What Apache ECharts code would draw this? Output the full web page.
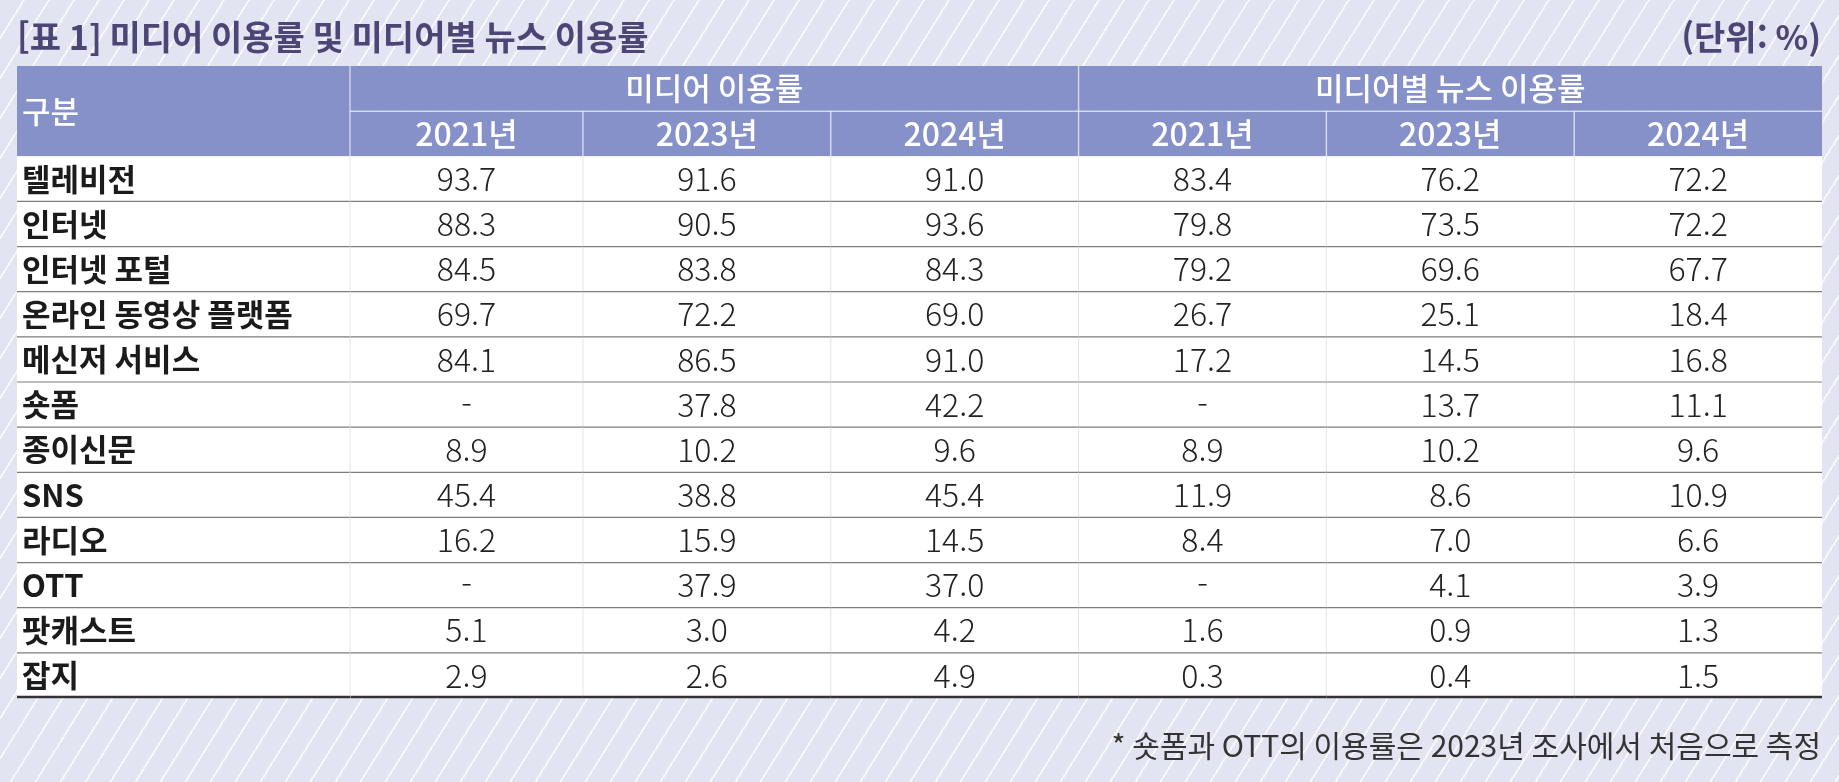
<!DOCTYPE html>
<html lang="ko">
<head>
<meta charset="utf-8">
<title>미디어 이용률 및 미디어별 뉴스 이용률</title>
<script src="https://cdn.jsdelivr.net/npm/echarts@6/dist/echarts.min.js"></script>
<style>
  html, body { margin: 0; padding: 0; }
  body {
    width: 1839px;
    height: 782px;
    overflow: hidden;
    background-color: #e3e4f1;
    background-image: repeating-linear-gradient(122deg,
      rgba(255, 255, 255, 0) 0px, rgba(255, 255, 255, 0) 19.5px,
      rgba(255, 255, 255, 0.8) 19.5px, rgba(255, 255, 255, 0.8) 21.2px);
  }
  #table-chart { width: 1839px; height: 782px; }
</style>
</head>
<body>
<div id="table-chart"></div>
<script>
var titleText = "[표 1] 미디어 이용률 및 미디어별 뉴스 이용률";
var unitText = "(단위: %)";
var noteText = "* 숏폼과 OTT의 이용률은 2023년 조사에서 처음으로 측정";
var cornerText = "구분";

var groups = ["미디어 이용률", "미디어별 뉴스 이용률"];
var years = ["2021년", "2023년", "2024년"];
var media = ["텔레비전", "인터넷", "인터넷 포털", "온라인 동영상 플랫폼", "메신저 서비스", "숏폼",
  "종이신문", "SNS", "라디오", "OTT", "팟캐스트", "잡지"];

// 미디어 이용률 (null = 조사 안 함)
var use2021 = [93.7, 88.3, 84.5, 69.7, 84.1, null, 8.9, 45.4, 16.2, null, 5.1, 2.9];
var use2023 = [91.6, 90.5, 83.8, 72.2, 86.5, 37.8, 10.2, 38.8, 15.9, 37.9, 3.0, 2.6];
var use2024 = [91.0, 93.6, 84.3, 69.0, 91.0, 42.2, 9.6, 45.4, 14.5, 37.0, 4.2, 4.9];
// 미디어별 뉴스 이용률
var news2021 = [83.4, 79.8, 79.2, 26.7, 17.2, null, 8.9, 11.9, 8.4, null, 1.6, 0.3];
var news2023 = [76.2, 73.5, 69.6, 25.1, 14.5, 13.7, 10.2, 8.6, 7.0, 4.1, 0.9, 0.4];
var news2024 = [72.2, 72.2, 67.7, 18.4, 16.8, 11.1, 9.6, 10.9, 6.6, 3.9, 1.3, 1.5];

var FONT = '"Noto Sans CJK KR", "Noto Sans", sans-serif';
var HEAD_BG = "#8591c8";
var HEAD_LINE = "rgba(255,255,255,0.6)";
var X_MIN = 0.06; // 첫 값 칸이 조금 좁다
var ROWS = media.length + 2;

function fmt(v) {
  return v == null ? "-" : v.toFixed(1);
}

var columns = [use2021, use2023, use2024, news2021, news2023, news2024];

// 칸 = [x0, y0, x1, y1] (표 안의 칸 번호), 글자는 info 쪽에
var labelCells = [[0, 0, 1, 2]];
var labelInfo = [{ text: cornerText, kind: "corner" }];
media.forEach(function(name, r) {
  labelCells.push([0, r + 2, 1, r + 3]);
  labelInfo.push({ text: name, kind: "label", last: r === media.length - 1 });
});

var valueCells = [];
var valueInfo = [];
groups.forEach(function(g, gi) {
  var c0 = gi * years.length;
  valueCells.push([c0, 0, c0 + years.length, 1]);
  valueInfo.push({ text: g, kind: "group", lastCol: gi === groups.length - 1 });
  years.forEach(function(y, yi) {
    var c = c0 + yi;
    valueCells.push([c, 1, c + 1, 2]);
    valueInfo.push({ text: y, kind: "year", lastCol: c === columns.length - 1 });
  });
});
columns.forEach(function(col, c) {
  col.forEach(function(v, r) {
    valueCells.push([c, r + 2, c + 1, r + 3]);
    valueInfo.push({
      text: fmt(v),
      kind: "value",
      lastCol: c === columns.length - 1,
      last: r === media.length - 1
    });
  });
});

function rule(x1, y1, x2, y2, color, width) {
  return {
    type: "line",
    z2: 10,
    shape: { x1: x1, y1: y1, x2: x2, y2: y2 },
    style: { stroke: color, lineWidth: width }
  };
}

var textStyles = {
  corner: { fill: "#fff", fontSize: 31, fontWeight: 500, align: "left" },
  label: { fill: "#1b1b1b", fontSize: 31, fontWeight: "bold", align: "left" },
  group: { fill: "#fff", fontSize: 31, fontWeight: 500, align: "center" },
  year: { fill: "#fff", fontSize: 32, fontWeight: 500, align: "center" },
  value: { fill: "#222", fontSize: 32, fontWeight: 300, align: "center" }
};

function cellRenderer(info, xMin) {
  return function(params, api) {
    var d = info[params.dataIndex];
    var p0 = api.coord([Math.max(api.value(0), xMin), api.value(1)]);
    var p1 = api.coord([api.value(2), api.value(3)]);
    var x = p0[0], y = p0[1], w = p1[0] - p0[0], h = p1[1] - p0[1];
    var head = d.kind === "corner" || d.kind === "group" || d.kind === "year";
    var children = [{
      type: "rect",
      z2: 0,
      shape: { x: x, y: y, width: w, height: h },
      style: { fill: head ? HEAD_BG : "#fff" }
    }];
    if (head) {
      if (!d.lastCol) children.push(rule(x + w, y, x + w, y + h, HEAD_LINE, 1.5));
      if (d.kind === "group") children.push(rule(x, y + h, x + w, y + h, HEAD_LINE, 1.5));
    } else {
      if (!d.lastCol) children.push(rule(x + w, y, x + w, y + h, "#e4e4e4", 1));
      if (d.last) children.push(rule(x, y + h - 1, x + w, y + h - 1, "#333", 2.5));
      else children.push(rule(x, y + h, x + w, y + h, "#7c7c7c", 1.2));
    }
    var ts = textStyles[d.kind];
    children.push({
      type: "text",
      z2: 20,
      x: ts.align === "left" ? x + 5 : x + w / 2,
      y: y + h / 2,
      style: {
        text: d.text,
        fill: ts.fill,
        fontSize: ts.fontSize,
        fontWeight: ts.fontWeight,
        fontFamily: FONT,
        align: ts.align,
        verticalAlign: "middle"
      }
    });
    return { type: "group", children: children };
  };
}

function hiddenAxis(gridIndex, min, max, inverse) {
  return {
    type: "value",
    gridIndex: gridIndex,
    min: min,
    max: max,
    inverse: !!inverse,
    show: false,
    splitLine: { show: false }
  };
}

var chart = echarts.init(document.getElementById("table-chart"));
chart.setOption({
  animation: false,
  title: [
    {
      text: titleText,
      left: 17,
      top: 20,
      padding: 0,
      textStyle: { fontFamily: FONT, fontSize: 34, fontWeight: "bold", color: "#4b4676" }
    },
    {
      text: unitText,
      right: 18,
      top: 20,
      padding: 0,
      textStyle: { fontFamily: FONT, fontSize: 34, fontWeight: "bold", color: "#4b4676" }
    },
    {
      text: noteText,
      right: 18,
      top: 731,
      padding: 0,
      textStyle: { fontFamily: FONT, fontSize: 30, fontWeight: "normal", color: "#333" }
    }
  ],
  grid: [
    { left: 17, width: 333, top: 66, height: 632 },
    { left: 350, right: 17, top: 66, height: 632 }
  ],
  xAxis: [hiddenAxis(0, 0, 1), hiddenAxis(1, X_MIN, columns.length)],
  yAxis: [hiddenAxis(0, 0, ROWS, true), hiddenAxis(1, 0, ROWS, true)],
  series: [
    {
      type: "custom",
      name: "값",
      xAxisIndex: 1,
      yAxisIndex: 1,
      z: 2,
      clip: false,
      silent: true,
      renderItem: cellRenderer(valueInfo, X_MIN),
      data: valueCells
    },
    {
      type: "custom",
      name: "구분",
      xAxisIndex: 0,
      yAxisIndex: 0,
      z: 3,
      clip: false,
      silent: true,
      renderItem: cellRenderer(labelInfo, 0),
      data: labelCells
    }
  ]
});
</script>
</body>
</html>
